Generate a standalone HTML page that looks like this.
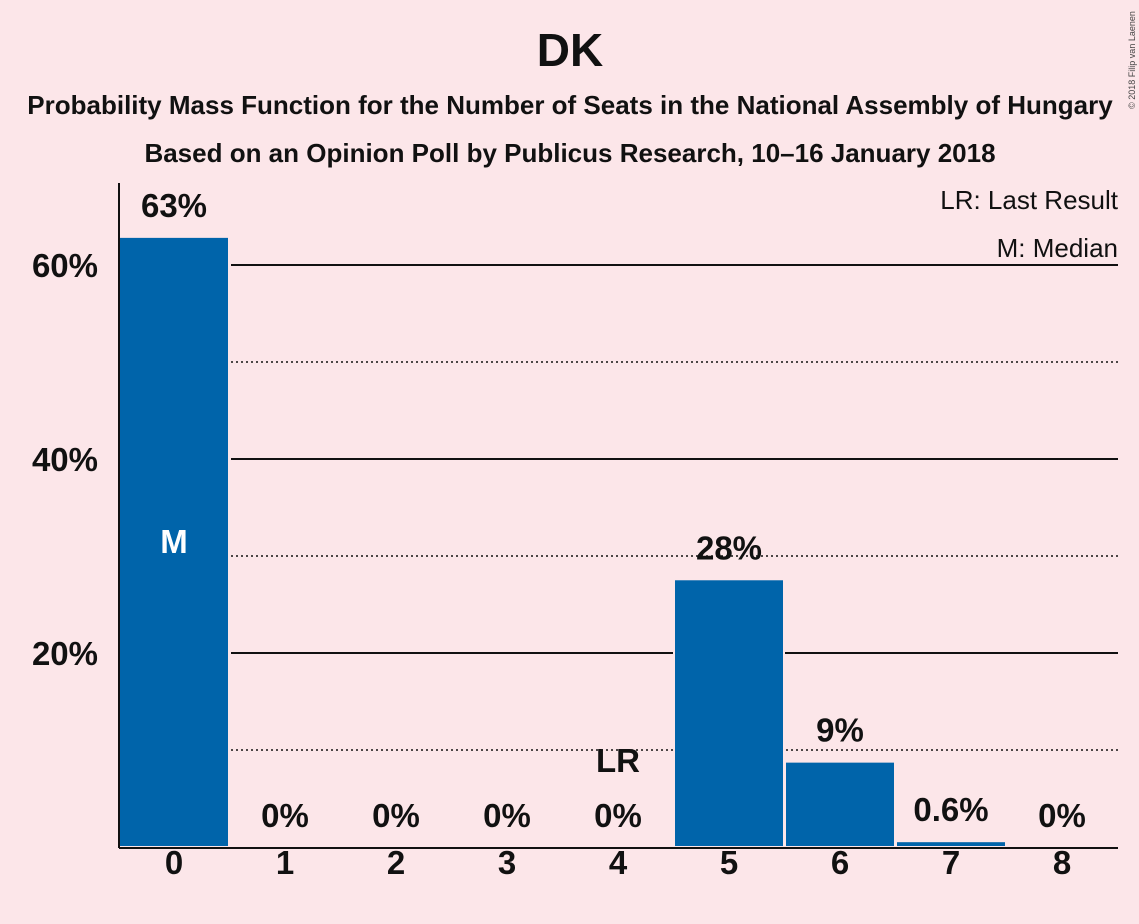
<!DOCTYPE html>
<html><head><meta charset="utf-8"><style>
body{margin:0;background:#fce6e9;}
svg{display:block;font-family:"Liberation Sans",sans-serif;}
</style></head><body>
<svg id="chart" width="1139" height="924">
<rect width="1139" height="924" fill="#fce6e9"/>
<text x="570" y="66" text-anchor="middle" font-size="46" font-weight="bold" fill="#111">DK</text>
<text x="570" y="114" text-anchor="middle" font-size="26" font-weight="bold" fill="#111">Probability Mass Function for the Number of Seats in the National Assembly of Hungary</text>
<text x="570" y="162" text-anchor="middle" font-size="26" font-weight="bold" fill="#111">Based on an Opinion Poll by Publicus Research, 10–16 January 2018</text>
<text transform="translate(1135,60) rotate(-90)" text-anchor="middle" font-size="9" fill="#444">© 2018 Filip van Laenen</text>
<text x="1118" y="209" text-anchor="end" font-size="26" fill="#111">LR: Last Result</text>
<text x="1118" y="257" text-anchor="end" font-size="26" fill="#111">M: Median</text>
<g id="grid"></g><g id="bars"></g><g id="labels"></g>
<line x1="119" y1="183" x2="119" y2="848" stroke="#111" stroke-width="2"/>
<line x1="119" y1="848" x2="1118" y2="848" stroke="#111" stroke-width="2"/>
</svg>
<script>
const categories=[0,1,2,3,4,5,6,7,8];
const values=[62.9,0,0,0,0,27.6,8.8,0.6,0];
const valueLabels=["63%","0%","0%","0%","0%","28%","9%","0.6%","0%"];
const yTicks=[20,40,60];
const yMinor=[10,30,50];
const lastResult=4, median=0;
const NS="http://www.w3.org/2000/svg";
const y=v=>847-v*9.7;
const x=c=>174+c*111;
function mk(tag,attrs,parent,text){const e=document.createElementNS(NS,tag);for(const k in attrs)e.setAttribute(k,attrs[k]);if(text!==undefined)e.textContent=text;document.getElementById(parent).appendChild(e);return e;}
yTicks.forEach(t=>{
 const l=mk('line',{x1:231,x2:1118,y1:y(t),y2:y(t),stroke:'#111','stroke-width':2},'grid');
 
 
 const tx=mk('text',{x:98,y:y(t)+12,'text-anchor':'end','font-size':33,'font-weight':'bold',fill:'#111'},'labels',t+'%');
 
 
});
yMinor.forEach(t=>{
 const l=mk('line',{x1:231,x2:1118,y1:y(t),y2:y(t),stroke:'#111','stroke-width':1.5,'stroke-dasharray':'2,3'},'grid');
 
 
});
categories.forEach((c,i)=>{
 const v=values[i];
 if(v>0){
  const r=mk('rect',{x:x(c)-55,y:y(v),width:110,height:847-y(v),fill:'#0064aa',stroke:'#fce6e9','stroke-width':2},'bars');
  
  
 }
 const lb=mk('text',{x:x(c),y:(v>0?y(v):847)-20,'text-anchor':'middle','font-size':33,'font-weight':'bold',fill:'#111'},'labels',valueLabels[i]);
 
 
 const tk=mk('text',{x:x(c),y:874,'text-anchor':'middle','font-size':33,'font-weight':'bold',fill:'#111'},'labels',String(c));
 
 
});
const lr=mk('text',{x:x(lastResult),y:772,'text-anchor':'middle','font-size':33,'font-weight':'bold',fill:'#111'},'labels','LR');


const m=mk('text',{x:x(median),y:(y(values[median])+847)/2+11,'text-anchor':'middle','font-size':33,'font-weight':'bold',fill:'#fff'},'labels','M');


</script>
</body></html>
